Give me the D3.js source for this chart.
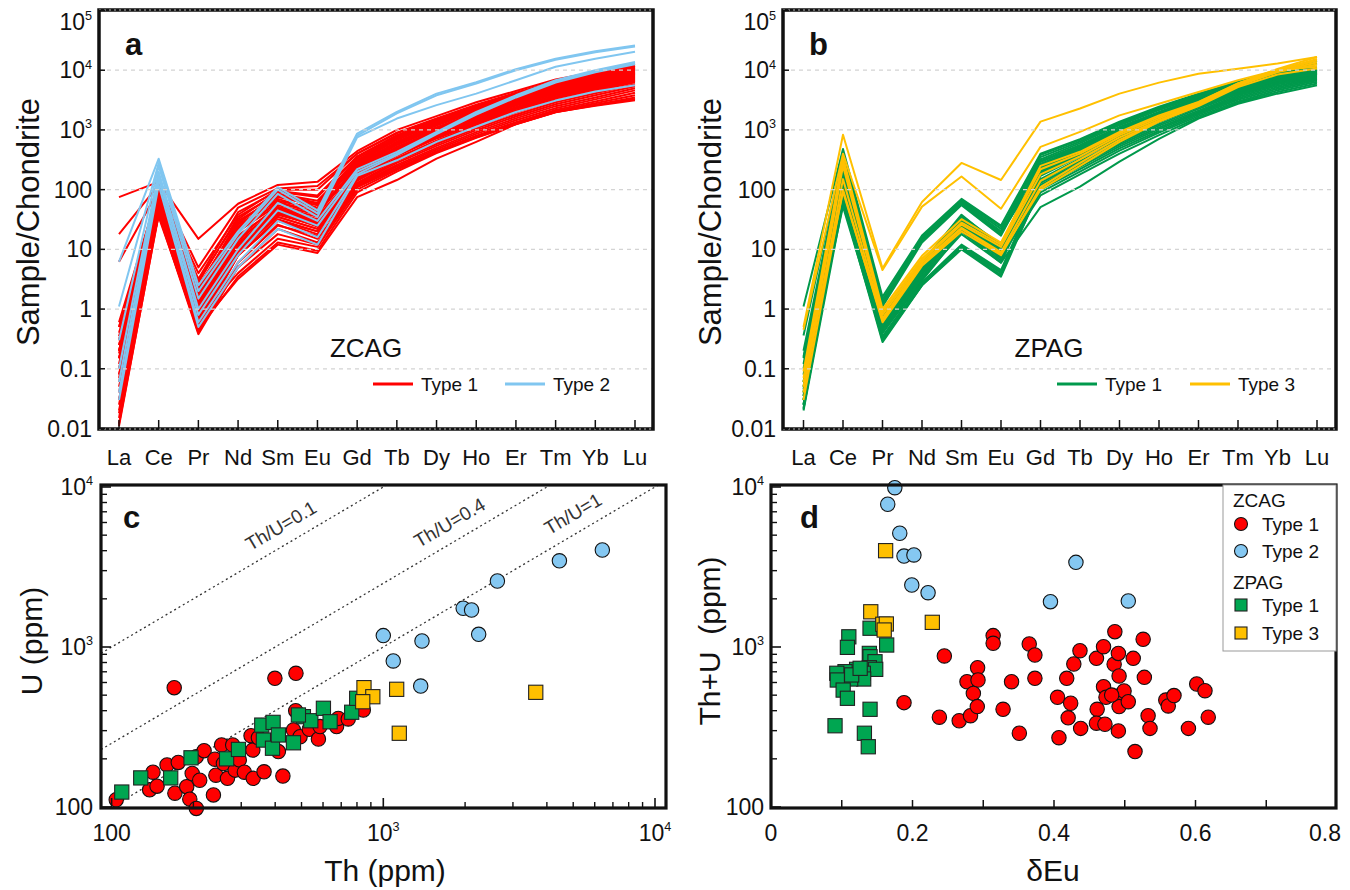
<!DOCTYPE html>
<html><head><meta charset="utf-8">
<script src="https://cdn.jsdelivr.net/npm/d3@7"></script>
<style>
body{margin:0;background:#fff;}
svg{display:block;font-family:"Liberation Sans",Arial,Helvetica,sans-serif;}
</style></head><body>
<svg id="chart" width="1350" height="890"></svg>
<script>
// ---------------- DATA ----------------
const elements = ["La","Ce","Pr","Nd","Sm","Eu","Gd","Tb","Dy","Ho","Er","Tm","Yb","Lu"];
const reeTicks = [0.01,0.1,1,10,100,1000,10000,100000];
const reeGrid = [0.1,1,10,100,1000,10000];

// panel a: ZCAG chondrite-normalised REE
const zcagType1 = [
 [75,135,15,58,120,135,440,1000,1700,2900,4500,7000,9300,12800],
 [18,120,5,50,105,115,400,900,1550,2650,4200,6500,8700,12000],
 [6.2,100,3.2,42,95,80,360,820,1450,2500,4000,6300,8400,11500],
 [0.6,95,2.8,35,85,60,330,760,1350,2350,3800,5900,8000,11000],
 [0.5,85,2.2,30,75,55,300,720,1300,2250,3600,5600,7700,10500],
 [0.35,75,1.8,26,65,48,280,680,1250,2150,3450,5400,7400,10200],
 [0.25,70,1.5,22,60,40,260,640,1180,2050,3300,5200,7100,9800],
 [0.2,65,1.3,20,55,38,250,600,1100,1950,3150,5000,6800,9400],
 [0.15,60,1.1,17,50,32,230,560,1050,1850,3000,4700,6500,9000],
 [0.1,55,0.9,15,45,30,210,520,980,1750,2850,4500,6200,8600],
 [0.07,50,0.8,13,42,27,200,490,920,1650,2700,4300,5900,8200],
 [0.05,48,0.7,11,38,25,190,460,870,1550,2550,4100,5600,7800],
 [0.03,45,0.6,9,35,22,175,430,820,1450,2400,3850,5300,7400],
 [0.02,42,0.5,8,30,20,160,400,770,1370,2250,3600,5000,7000],
 [0.011,40,0.4,6,25,17,150,370,720,1280,2100,3400,4700,6600],
 [0.3,110,2.0,28,80,50,270,620,1100,1900,3050,4800,6600,9200],
 [0.18,90,1.6,24,70,45,240,570,1020,1800,2900,4600,6300,8800],
 [0.12,80,1.2,20,62,42,220,520,950,1700,2750,4400,6000,8400],
 [0.08,72,1.0,16,52,35,200,470,880,1580,2600,4150,5700,8000],
 [0.04,62,0.8,12,45,28,180,420,800,1450,2400,3900,5400,7600],
 [0.025,55,0.65,10,40,24,160,380,730,1330,2250,3650,5100,7200],
 [0.015,50,0.5,8,32,20,145,340,660,1220,2100,3400,4800,6800],
 [0.2,68,1.1,14,48,30,140,320,620,1130,1950,3150,4450,6300],
 [0.1,58,0.9,12,40,26,130,300,580,1060,1800,2900,4100,5800],
 [0.06,52,0.7,10,35,22,125,280,540,990,1680,2700,3800,5400],
 [0.03,46,0.55,8,30,18,120,260,500,920,1560,2500,3500,5000],
 [0.018,42,0.45,6,26,15,115,245,470,860,1450,2300,3250,4600],
 [0.012,38,0.38,5,22,13,110,230,440,800,1350,2150,3000,4200],
 [0.4,62,0.9,5,18,12,110,225,430,770,1280,2050,2800,3800],
 [0.25,55,0.7,4,15,11,100,215,420,750,1250,2000,2650,3500],
 [0.15,45,0.5,3.2,12,8.7,75,145,330,630,1250,2000,2550,3150],
 [0.08,35,0.45,3.5,13,9.5,90,200,410,740,1240,1980,2600,3300],
 [0.5,100,4.0,38,100,100,400,880,1500,2550,4050,6300,8500,11800],
 [0.3,92,3.0,32,92,75,350,800,1400,2400,3850,6000,8100,11200],
 [0.2,88,2.4,27,85,65,310,740,1320,2300,3700,5750,7800,10800],
 [0.15,78,1.9,23,78,58,290,690,1240,2180,3500,5500,7500,10400]
];
const zcagType2 = [
 [6.2,330,2.5,20,110,45,870,2000,4050,6300,10400,15600,20800,26000],
 [1.1,280,2.0,18,100,40,800,1900,3800,6000,10000,15000,20000,25000],
 [0.3,250,1.5,15,85,35,750,1550,2600,4050,6800,11400,15600,20300],
 [0.1,200,1.0,10,60,30,220,430,930,2000,3800,6800,10000,13800],
 [0.06,180,0.8,8,45,25,200,400,880,1900,3700,6500,9600,13200],
 [0.04,150,0.6,6,30,16,180,380,850,1800,3500,6200,9200,12600],
 [0.03,120,0.5,5,22,12,170,310,630,1130,2000,3100,4400,5600]
];
// panel b: ZPAG chondrite-normalised REE
const zpagType1 = [
 [1.1,480,1.6,17,70,25,400,700,1380,2450,4050,6400,9600,14500],
 [0.36,400,1.4,16,65,22,380,680,1320,2350,3900,6200,9100,13000],
 [0.16,300,1.3,15,62,20,350,640,1260,2250,3750,6000,8800,11600],
 [0.1,260,1.2,14,58,18,320,600,1200,2150,3600,5800,8500,11200],
 [0.08,240,0.9,6,38,11,300,560,1120,2000,3450,5600,8200,10800],
 [0.06,220,0.8,5,35,10,270,520,1050,1900,3300,5400,7900,10400],
 [0.05,200,0.7,4.5,32,9,250,480,980,1800,3150,5200,7600,10000],
 [0.04,180,0.6,4,28,8,230,450,920,1700,3000,5000,7300,9600],
 [0.035,160,0.55,3.8,25,7.5,210,420,860,1600,2850,4800,7000,9200],
 [0.03,140,0.5,3.5,23,7,190,390,800,1500,2700,4600,6800,8900],
 [0.025,120,0.45,3.2,21,6.5,170,360,750,1420,2550,4400,6500,8600],
 [0.021,100,0.4,3,20,6,150,330,700,1350,2400,4200,6300,8300],
 [0.03,90,0.35,2.8,12,4.5,140,300,650,1250,2250,4000,6000,8000],
 [0.025,80,0.32,2.6,11,4,130,280,610,1180,2100,3800,5800,7700],
 [0.022,70,0.3,2.5,10.5,3.7,120,260,570,1100,2000,3600,5500,7400],
 [0.02,60,0.28,2.5,10,3.5,110,240,530,1030,1900,3400,5200,7100],
 [0.05,52,0.33,2.7,11.5,4.2,100,220,490,960,1800,3200,4900,6800],
 [0.04,130,0.5,4.5,27,8,90,200,450,900,1700,3000,4600,6400],
 [0.03,110,0.45,4,24,7.5,80,180,400,820,1600,2850,4300,6000],
 [0.025,75,0.4,3.4,18,6,51,112,295,710,1550,2750,4050,5600],
 [0.15,260,1.1,13,55,17,290,540,1080,1950,3300,5300,7800,10200],
 [0.06,210,0.75,5.5,36,12,260,500,1010,1850,3200,5300,7800,10300],
 [0.045,170,0.65,4.8,30,10,240,470,950,1750,3050,5100,7500,9900],
 [0.035,150,0.6,4.2,27,9,220,440,900,1650,2950,4900,7200,9500],
 [0.12,280,1.2,14.5,60,19,200,410,840,1550,2800,4700,6900,9100],
 [0.2,330,1.4,16,67,24,180,380,780,1480,2650,4500,6700,8800]
];
const zpagType3 = [
 [0.5,830,4.8,62,280,145,1380,2280,4050,6200,8700,10600,12900,16600],
 [0.45,400,4.5,52,166,48,520,930,1750,2750,4330,6800,10000,11400],
 [0.09,350,1.0,7.8,32,13,250,430,930,1750,2950,6000,10500,16600],
 [0.07,300,0.9,7,28,12,220,400,880,1650,2900,6000,10000,15500],
 [0.05,250,0.8,6.5,26,11,180,360,820,1550,2800,5800,9800,14500],
 [0.04,150,0.7,6,23,9,140,320,750,1450,2700,5700,9500,13500],
 [0.03,100,0.6,5.3,20,8,110,280,680,1400,2600,5500,9300,12500],
 [0.06,92,0.65,5.5,22,8.5,100,250,630,1380,2500,5200,8500,10700]
];

// panel c: Th (ppm), U (ppm)
const thuZcag1 = [[104,111],[170,557],[399,637],[477,685],[476,400],[142,165],[138,128],[147,135],[160,183],[176,190],[171,122],[189,134],[194,112],[205,98],[198,162],[211,147],[205,206],[219,225],[237,119],[242,158],[240,199],[254,244],[258,187],[267,151],[279,244],[285,170],[295,197],[308,165],[326,279],[331,227],[332,151],[347,271],[364,166],[411,222],[427,156],[467,303],[494,275],[534,306],[577,266],[585,318],[673,318],[683,358],[743,355],[844,404]];
const thuZcag2 = [[1000,1178],[1088,818],[1388,1090],[1373,570],[1968,1746],[2113,1703],[2244,1200],[2630,2585],[4448,3457],[6400,4040]];
const thuZpag1 = [[109,124],[128,152],[165,152],[196,203],[265,200],[293,229],[357,325],[393,338],[362,262],[391,233],[411,282],[467,252],[508,367],[541,346],[602,414],[637,341],[765,391],[798,478],[487,376]];
const thuZpag3 = [[849,557],[915,489],[840,455],[1120,544],[1145,289],[3640,521]];
const thuRatios = [0.1,0.4,1];
const thuRatioLabels = ["Th/U=0.1","Th/U=0.4","Th/U=1"];
const thuLabelTh = [455,1900,5400];
const logTicksC = [100,1000,10000];

// panel d: deltaEu, Th+U (ppm)
const euZcag1 = [[0.245,879],[0.188,449],[0.238,364],[0.266,346],[0.282,372],[0.277,607],[0.292,742],[0.2926,622],[0.286,513],[0.2916,424],[0.314,1178],[0.314,1055],[0.328,408],[0.34,607],[0.351,289],[0.365,1044],[0.373,891],[0.373,637],[0.405,485],[0.407,271],[0.418,637],[0.4236,445],[0.42,361],[0.428,783],[0.4367,948],[0.4377,310],[0.46,849],[0.461,408],[0.46,334],[0.47,1004],[0.47,565],[0.4735,485],[0.472,329],[0.485,780],[0.486,1247],[0.491,912],[0.492,659],[0.491,494],[0.492,424],[0.491,299],[0.499,531],[0.505,455],[0.512,849],[0.5145,222],[0.526,1117],[0.5277,646],[0.533,372],[0.5357,310],[0.558,466],[0.5615,428],[0.5696,497],[0.59,310],[0.6017,587],[0.6134,533],[0.618,364],[0.4815,501]];
const euZcag2 = [[0.175,9900],[0.165,7800],[0.182,5140],[0.188,3700],[0.202,3760],[0.199,2440],[0.222,2185],[0.431,3380],[0.395,1920],[0.505,1940]];
const euZpag1 = [[0.11,1158],[0.108,995],[0.14,1310],[0.1635,1029],[0.139,912],[0.14,869],[0.147,809],[0.139,742],[0.148,725],[0.121,725],[0.1305,685],[0.131,631],[0.1126,631],[0.1046,701],[0.093,685],[0.0937,622],[0.102,538],[0.108,478],[0.14,408],[0.0905,322],[0.132,289],[0.1375,238],[0.114,669],[0.126,736]];
const euZpag3 = [[0.162,4000],[0.141,1660],[0.158,1387],[0.163,1393],[0.16,1277],[0.228,1426]];
const euTicks = [0,0.2,0.4,0.6,0.8];
const euMinor = [0.1,0.2,0.3,0.4,0.5,0.6,0.7];

// colours
const RED = "#ff0000", BLUE = "#80c6f0", GREEN = "#00994c", YELLOW = "#ffc000";
const MRED = "#ff0000", MBLUE = "#85c8f2", MGREEN = "#00a651", MYELLOW = "#ffc000";

// ---------------- DRAW ----------------
const svg = d3.select("#chart");
const FONT_TICK = 23;

function logLabel(g, v, x, y, anchor, size) {
  const t = g.append("text").attr("x", x).attr("y", y).attr("text-anchor", anchor)
    .attr("font-size", size).attr("fill", "#111");
  if (v >= 1000) {
    t.append("tspan").text("10");
    t.append("tspan").attr("dy", -size * 0.42).attr("font-size", size * 0.55)
      .text(Math.round(Math.log10(v)));
  } else {
    t.text(String(v));
  }
  return t;
}

function reePanel(cfg) {
  const g = svg.append("g");
  const f = cfg.frame;
  const x = d3.scalePoint().domain(elements).range(cfg.xr);
  const y = d3.scaleLog().domain([0.01, 100000]).range([428.5, 10.5]);
  const line = d3.line().x((d, i) => x(elements[i])).y(d => y(d));
  cfg.sets.forEach(s => {
    g.append("g").selectAll("path").data(s.rows).join("path")
      .attr("d", line).attr("fill", "none").attr("stroke", s.color)
      .attr("stroke-width", 2).attr("stroke-linejoin", "round");
  });
  // grid on top
  g.append("g").selectAll("line").data(reeGrid).join("line")
    .attr("x1", f.x0).attr("x2", f.x1).attr("y1", d => y(d)).attr("y2", d => y(d))
    .attr("stroke", "#d4d4d4").attr("stroke-width", 1.3).attr("stroke-dasharray", "4,4");
  // frame
  g.append("rect").attr("x", f.x0).attr("y", f.y0).attr("width", f.x1 - f.x0).attr("height", f.y1 - f.y0)
    .attr("fill", "none").attr("stroke", "#111").attr("stroke-width", 3.5);
  [f.y0, f.y1].forEach(yy => g.append("line").attr("x1", f.x0).attr("x2", f.x1).attr("y1", yy).attr("y2", yy)
    .attr("stroke", "#fff").attr("stroke-width", 1).attr("stroke-dasharray", "2,3").attr("opacity", 0.7));
  // x ticks
  g.append("g").selectAll("line").data(elements).join("line")
    .attr("x1", d => x(d)).attr("x2", d => x(d)).attr("y1", f.y1).attr("y2", f.y1 - 9)
    .attr("stroke", "#111").attr("stroke-width", 1.5);
  g.append("g").selectAll("text").data(elements).join("text")
    .attr("x", d => x(d)).attr("y", 465).attr("text-anchor", "middle")
    .attr("font-size", 22).attr("fill", "#111").text(d => d);
  // y ticks
  g.append("g").selectAll("line").data(reeTicks).join("line")
    .attr("x1", f.x0).attr("x2", f.x0 + 6).attr("y1", d => y(d)).attr("y2", d => y(d))
    .attr("stroke", "#111").attr("stroke-width", 1.5);
  reeTicks.forEach(v => logLabel(g, v, f.x0 - 7, Math.max(y(v) + 8, 30), "end", FONT_TICK));
  // titles
  g.append("text").attr("transform", `translate(${cfg.titleX},222) rotate(-90)`)
    .attr("text-anchor", "middle").attr("dominant-baseline", "central")
    .attr("font-size", 31).attr("fill", "#111").text("Sample/Chondrite");
  g.append("text").attr("x", f.x0 + 26).attr("y", 55).attr("font-size", 31)
    .attr("font-weight", "bold").attr("fill", "#111").text(cfg.letter);
  g.append("text").attr("x", cfg.groupX).attr("y", 357).attr("text-anchor", "middle")
    .attr("font-size", 26).attr("fill", "#111").text(cfg.group);
  // legend
  cfg.legend.forEach(l => {
    g.append("line").attr("x1", l.x).attr("x2", l.x + 40).attr("y1", 384).attr("y2", 384)
      .attr("stroke", l.color).attr("stroke-width", 3);
    g.append("text").attr("x", l.x + 48).attr("y", 391).attr("font-size", 19)
      .attr("fill", "#111").text(l.label);
  });
}

reePanel({
  frame: {x0: 99, x1: 653, y0: 10, y1: 429}, xr: [119, 635], titleX: 28, letter: "a",
  group: "ZCAG", groupX: 366,
  sets: [{rows: zcagType1, color: RED}, {rows: zcagType2, color: BLUE}],
  legend: [{label: "Type 1", color: RED, x: 373}, {label: "Type 2", color: BLUE, x: 505}]
});
reePanel({
  frame: {x0: 783, x1: 1336, y0: 10, y1: 429}, xr: [803.5, 1317], titleX: 710, letter: "b",
  group: "ZPAG", groupX: 1049,
  sets: [{rows: zpagType1, color: GREEN}, {rows: zpagType3, color: YELLOW}],
  legend: [{label: "Type 1", color: GREEN, x: 1057}, {label: "Type 3", color: YELLOW, x: 1190}]
});

// common log-y for c and d
const yTU = d3.scaleLog().domain([100, 10000]).range([807, 487]);
const minorLog = [];
[100, 1000].forEach(d => { for (let k = 2; k <= 9; k++) minorLog.push(k * d); });

function circles(g, data, xs, ys, color) {
  g.append("g").selectAll("circle").data(data).join("circle")
    .attr("cx", d => xs(d[0])).attr("cy", d => ys(d[1])).attr("r", 7.2)
    .attr("fill", color).attr("stroke", "#111").attr("stroke-width", 1.1);
}
function squares(g, data, xs, ys, color) {
  const s = 14.2;
  g.append("g").selectAll("rect").data(data).join("rect")
    .attr("x", d => xs(d[0]) - s / 2).attr("y", d => ys(d[1]) - s / 2)
    .attr("width", s).attr("height", s)
    .attr("fill", color).attr("stroke", "#222").attr("stroke-width", 1.1);
}
function yAxisLog(g, f, labelX) {
  g.append("g").selectAll("line").data(logTicksC).join("line")
    .attr("x1", f.x0).attr("x2", f.x0 + 10).attr("y1", d => yTU(d)).attr("y2", d => yTU(d))
    .attr("stroke", "#111").attr("stroke-width", 1.6);
  g.append("g").selectAll("line").data(minorLog).join("line")
    .attr("x1", f.x0).attr("x2", f.x0 + 6).attr("y1", d => yTU(d)).attr("y2", d => yTU(d))
    .attr("stroke", "#111").attr("stroke-width", 1.4);
  logTicksC.forEach(v => logLabel(g, v, labelX, yTU(v) + 8, "end", FONT_TICK));
}
function frameBox(g, f) {
  g.append("rect").attr("x", f.x0).attr("y", f.y0).attr("width", f.x1 - f.x0).attr("height", f.y1 - f.y0)
    .attr("fill", "none").attr("stroke", "#111").attr("stroke-width", 3.2);
}

// ---------- panel c ----------
(function () {
  const g = svg.append("g");
  const f = {x0: 101, x1: 666, y0: 485, y1: 808};
  const x = d3.scaleLog().domain([100, 10000]).range([111.6, 655]);
  g.append("clipPath").attr("id", "clipC").append("rect")
    .attr("x", f.x0).attr("y", f.y0).attr("width", f.x1 - f.x0).attr("height", f.y1 - f.y0);
  const thMin = x.invert(f.x0), thMax = x.invert(f.x1);
  const lg = g.append("g").attr("clip-path", "url(#clipC)");
  thuRatios.forEach(r => {
    lg.append("line").attr("x1", x(thMin)).attr("y1", yTU(thMin / r))
      .attr("x2", x(thMax)).attr("y2", yTU(thMax / r))
      .attr("stroke", "#333").attr("stroke-width", 1.3).attr("stroke-dasharray", "2,3");
  });
  thuRatios.forEach((r, i) => {
    const t = thuLabelTh[i];
    const px = x(t), py = yTU(t / r);
    const ang = Math.atan2(yTU(t * 10 / r) - py, x(t * 10) - px);
    const off = 12;
    const lx = px + Math.sin(ang) * off, ly = py - Math.cos(ang) * off;
    g.append("text").attr("transform", `translate(${lx},${ly}) rotate(${ang * 180 / Math.PI})`)
      .attr("text-anchor", "middle").attr("font-size", 19).attr("fill", "#333").text(thuRatioLabels[i]);
  });
  circles(g, thuZcag1, x, yTU, MRED);
  squares(g, thuZpag1, x, yTU, MGREEN);
  squares(g, thuZpag3, x, yTU, MYELLOW);
  circles(g, thuZcag2, x, yTU, MBLUE);
  frameBox(g, f);
  // ticks
  const xMinor = minorLog.filter(v => x(v) > f.x0 && x(v) < f.x1);
  g.append("g").selectAll("line").data(logTicksC).join("line")
    .attr("x1", d => x(d)).attr("x2", d => x(d)).attr("y1", f.y1).attr("y2", f.y1 - 10)
    .attr("stroke", "#111").attr("stroke-width", 1.6);
  g.append("g").selectAll("line").data(xMinor).join("line")
    .attr("x1", d => x(d)).attr("x2", d => x(d)).attr("y1", f.y1).attr("y2", f.y1 - 6)
    .attr("stroke", "#111").attr("stroke-width", 1.4);
  logTicksC.forEach(v => logLabel(g, v, x(v), 841, "middle", FONT_TICK));
  yAxisLog(g, f, 93);
  g.append("text").attr("x", f.x0 + 22).attr("y", 528).attr("font-size", 31)
    .attr("font-weight", "bold").attr("fill", "#111").text("c");
  g.append("text").attr("x", 385).attr("y", 881).attr("text-anchor", "middle")
    .attr("font-size", 30).attr("fill", "#111").text("Th (ppm)");
  g.append("text").attr("transform", "translate(31,641) rotate(-90)")
    .attr("text-anchor", "middle").attr("dominant-baseline", "central")
    .attr("font-size", 30).attr("fill", "#111").text("U (ppm)");
})();

// ---------- panel d ----------
(function () {
  const g = svg.append("g");
  const f = {x0: 771, x1: 1336, y0: 485, y1: 808};
  const x = d3.scaleLinear().domain([0, 0.8]).range([771, 1337]);
  circles(g, euZcag1, x, yTU, MRED);
  circles(g, euZcag2, x, yTU, MBLUE);
  squares(g, euZpag1, x, yTU, MGREEN);
  squares(g, euZpag3, x, yTU, MYELLOW);
  frameBox(g, f);
  g.append("g").selectAll("line").data(euMinor).join("line")
    .attr("x1", d => x(d)).attr("x2", d => x(d)).attr("y1", f.y1).attr("y2", f.y1 - 8)
    .attr("stroke", "#111").attr("stroke-width", 1.5);
  g.append("g").selectAll("text").data(euTicks).join("text")
    .attr("x", d => Math.min(x(d), 1325)).attr("y", 841).attr("text-anchor", "middle")
    .attr("font-size", FONT_TICK).attr("fill", "#111").text(d => d === 0 ? "0" : d.toFixed(1));
  yAxisLog(g, f, 764);
  g.append("text").attr("x", f.x0 + 29).attr("y", 528).attr("font-size", 31)
    .attr("font-weight", "bold").attr("fill", "#111").text("d");
  g.append("text").attr("x", 1053).attr("y", 881).attr("text-anchor", "middle")
    .attr("font-size", 30).attr("fill", "#111").text("δEu");
  g.append("text").attr("transform", "translate(709,641) rotate(-90)")
    .attr("text-anchor", "middle").attr("dominant-baseline", "central")
    .attr("font-size", 30).attr("fill", "#111").style("white-space", "pre").text("Th+U  (ppm)");
  // legend
  const lgd = g.append("g");
  lgd.append("rect").attr("x", 1223).attr("y", 485).attr("width", 113).attr("height", 166)
    .attr("fill", "#fff").attr("stroke", "#999").attr("stroke-width", 1);
  const items = [
    {t: "ZCAG", y: 500, head: true},
    {t: "Type 1", y: 524, shape: "c", color: MRED},
    {t: "Type 2", y: 551, shape: "c", color: MBLUE},
    {t: "ZPAG", y: 582, head: true},
    {t: "Type 1", y: 605, shape: "s", color: MGREEN},
    {t: "Type 3", y: 633, shape: "s", color: MYELLOW}
  ];
  items.forEach(it => {
    if (it.head) {
      lgd.append("text").attr("x", 1233).attr("y", it.y + 7).attr("font-size", 19)
        .attr("fill", "#111").text(it.t);
    } else {
      if (it.shape === "c") lgd.append("circle").attr("cx", 1241).attr("cy", it.y).attr("r", 6.5)
        .attr("fill", it.color).attr("stroke", "#111").attr("stroke-width", 1.1);
      else lgd.append("rect").attr("x", 1235).attr("y", it.y - 6).attr("width", 12).attr("height", 12)
        .attr("fill", it.color).attr("stroke", "#222").attr("stroke-width", 1.1);
      lgd.append("text").attr("x", 1262).attr("y", it.y + 7).attr("font-size", 19)
        .attr("fill", "#111").text(it.t);
    }
  });
})();
</script>
</body></html>
